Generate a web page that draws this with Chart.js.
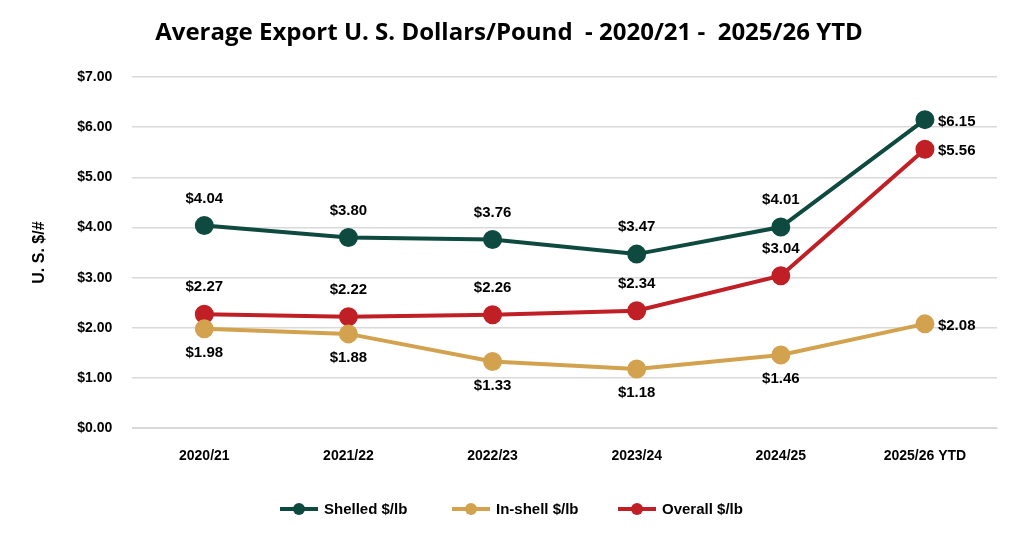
<!DOCTYPE html>
<html><head><meta charset="utf-8">
<script src="https://cdn.jsdelivr.net/npm/chart.js@4"></script>
<style>html,body{margin:0;padding:0;background:#fff}#w{width:1019px;height:539px}</style>
</head><body><div id="w"><canvas id="c"></canvas></div>
<script>
const categories=["2020/21","2021/22","2022/23","2023/24","2024/25","2025/26 YTD"];
const shelled=[4.04,3.80,3.76,3.47,4.01,6.15];
const inshell=[1.98,1.88,1.33,1.18,1.46,2.08];
const overall=[2.27,2.22,2.26,2.34,3.04,5.56];
const seriesNames=["Shelled $/lb","In-shell $/lb","Overall $/lb"];
const colors=["#0f4a40","#d3a24e","#c01f26"];
const F="'Liberation Sans', Arial, sans-serif";

const labelsPlugin={id:'lbl',afterDatasetsDraw(ch){
  const ctx=ch.ctx;ctx.save();ctx.font="bold 15px "+F;ctx.fillStyle="#000";
  ch.data.datasets.forEach((ds,i)=>{
    const m=ch.getDatasetMeta(i);
    m.data.forEach((p,j)=>{
      const t="$"+ds.data[j].toFixed(2);
      const last=j===ds.data.length-1;
      if(last){ctx.textAlign="left";ctx.textBaseline="middle";ctx.fillText(t,p.x+13,p.y+2);}
      else if(i===1){ctx.textAlign="center";ctx.textBaseline="middle";ctx.fillText(t,p.x,p.y+24);}
      else{ctx.textAlign="center";ctx.textBaseline="middle";ctx.fillText(t,p.x,p.y-27);}
    });
  });
  ctx.font="bold 24px 'Open Sans', "+F;ctx.textAlign="center";ctx.textBaseline="middle";
  ctx.fillText("Average Export U. S. Dollars/Pound  - 2020/21 -  2025/26 YTD",509,33);
  const xs=[280,452,618];
  ctx.font="bold 15px "+F;ctx.textAlign="left";
  xs.forEach((x,i)=>{
    const y=509;ctx.strokeStyle=colors[i];ctx.lineWidth=4;
    ctx.beginPath();ctx.moveTo(x,y);ctx.lineTo(x+38,y);ctx.stroke();
    ctx.fillStyle=colors[i];ctx.beginPath();ctx.arc(x+19,y,6,0,Math.PI*2);ctx.fill();
    ctx.fillStyle="#000";ctx.fillText(seriesNames[i],x+44,y+1);
  });
  ctx.restore();
}};

const mk=(n,d,c)=>({label:n,data:d,borderColor:c,backgroundColor:c,borderWidth:4,pointRadius:7.5,pointHoverRadius:7.5,tension:0});
new Chart(document.getElementById('c'),{
  type:'line',
  data:{labels:categories,datasets:[mk(seriesNames[0],shelled,colors[0]),mk(seriesNames[1],inshell,colors[1]),mk(seriesNames[2],overall,colors[2])]},
  options:{responsive:true,maintainAspectRatio:false,animation:false,
    layout:{padding:{top:77,right:22,bottom:62,left:26}},
    plugins:{legend:{display:false},tooltip:{enabled:false}},
    scales:{
      x:{offset:true,grid:{display:false,offset:true},border:{display:true,color:'#d9d9d9'},ticks:{color:'#000',font:{family:F,size:14,weight:'bold'},padding:12}},
      y:{min:0,max:7,ticks:{stepSize:1,color:'#000',font:{family:F,size:14,weight:'bold'},padding:20,callback:v=>"$"+v.toFixed(2)},
         grid:{color:'#d9d9d9',lineWidth:1.5,drawTicks:false},border:{display:false},
         title:{display:true,text:"U. S. $/#",color:'#000',font:{family:F,size:16,weight:'bold'},padding:{bottom:8}}}
    }
  },
  plugins:[labelsPlugin]
});
</script></body></html>
